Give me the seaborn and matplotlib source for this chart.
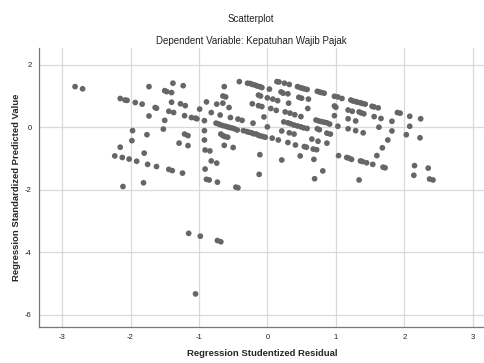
import numpy as np
import pandas as pd
import matplotlib
matplotlib.use("Agg")
import matplotlib.pyplot as plt
import seaborn as sns

# Regression Studentized Residual (x) and Standardized Predicted Value (y)
residual = [
    -2.81, -2.70, -2.15, -2.08, -2.05, -1.93, -1.83, -1.73, -1.64, -1.62,
    -1.73, -1.50, -1.47, -1.38, -1.23, -1.40, -1.40, -1.27, -1.20, -1.44,
    -1.37, -1.21, -1.50, -1.52, -1.97, -1.76, -1.98, -1.21, -1.16, -1.29,
    -1.16, -2.15, -2.23, -2.12, -2.02, -1.91, -1.80, -1.75, -1.62, -1.44,
    -1.39, -1.24, -2.11, -1.81,
    -1.11, -1.05, -1.03, -0.99, -0.92, -0.89, -0.82, -0.74, -0.65, -0.69,
    -0.63, -0.65, -0.61, -0.56, -0.54, -0.43, -0.37, -0.41,
    -0.29, -0.25, -0.22, -0.18, -0.15, -0.11, -0.08,
    0.03, -0.13, -0.10, -0.22, -0.13, -0.08, -0.05, -0.21, 0.00, 0.08, 0.15,
    0.05, 0.13, 0.14, 0.17, 0.25, 0.32, 0.20, 0.23, 0.30, 0.31, 0.26, 0.33, 0.40,
    0.44, 0.48, 0.51, 0.54, 0.58, 0.46, 0.50, 0.49, 0.60, 0.59,
    0.73, 0.76, 0.79, 0.83,
    -0.75, -0.72, -0.69, -0.65, -0.61, -0.58, -0.55, -0.51, -0.48, -0.44,
    -0.35, -0.30, -0.27, -0.23, -0.20, -0.16, -0.13, -0.10, -0.06, -0.03,
    0.00, 0.07, 0.16, 0.21,
    0.24, 0.30, 0.34, 0.39, 0.44, 0.49, 0.53, 0.58,
    0.32, 0.39, 0.30, 0.41, 0.54, 0.57, 0.65, 0.67, 0.72, 0.73, 0.76, 0.74,
    0.68, 0.81, 0.69, 0.48, 0.21, -0.11, -0.12,
    0.71, 0.75, 0.79, 0.83, 0.87, 0.91, 1.03,
    0.87, 0.92, 0.87,
    -0.92, -0.92, -0.91, -0.84, -0.82, -0.74, -0.91, -0.89, -0.85, -0.73,
    -0.46, -0.43, -0.63, -0.50, -0.68, -0.65, -0.62, -0.58,
    0.98, 1.03, 1.09,
    1.22, 1.25, 1.29, 1.32, 1.36, 1.39, 1.43,
    1.53, 1.56, 1.62, 0.98, 1.00, 0.98, 1.18, 1.24, 1.34, 1.37, 1.41,
    1.18, 1.29, 1.56, 1.66, 1.82, 1.90, 1.94, 2.08, 2.24,
    1.18, 1.29, 1.40, 1.63, 1.82, 2.08, 2.03, 2.23,
    1.76, 1.68, 1.60, 1.04, 1.16, 1.19, 1.23, 1.36, 1.39, 1.45, 1.54,
    1.69, 1.72, 1.34, 2.15, 2.14, 2.35, 2.37, 2.42,
    -1.15, -0.98, -0.73, -0.68, -1.05,
]
predicted = [
    1.30, 1.23, 0.92, 0.87, 0.86, 0.79, 0.74, 1.30, 0.63, 0.61,
    0.36, 1.17, 1.14, 1.41, 1.33, 1.11, 0.80, 0.75, 0.69, 0.51,
    0.47, 0.37, 0.22, -0.06, -0.11, -0.24, -0.43, -0.22, -0.27, -0.51,
    -0.59, -0.64, -0.92, -0.97, -1.02, -1.09, -0.83, -1.19, -1.26, -1.35,
    -1.39, -1.47, -1.90, -1.78,
    0.31, 0.29, 0.27, 0.58, 0.21, 0.81, 0.47, 0.74, 0.77, 0.39,
    1.30, 1.00, 0.97, 0.63, 0.31, 0.26, 0.22, 1.46,
    1.41, 1.40, 1.37, 1.35, 1.32, 1.30, 1.27,
    1.22, 1.03, 1.00, 0.75, 0.69, 0.66, 0.33, 0.13, 0.94, 0.90, 0.85,
    0.60, 0.54, 1.46, 1.45, 1.41, 1.37, 1.13, 1.09, 1.07, 0.77, 0.49, 0.45, 0.40,
    1.30, 1.27, 1.25, 1.23, 1.21, 0.96, 0.93, 0.34, 0.90, 0.60,
    1.15, 1.13, 1.11, 1.09,
    0.13, 0.11, 0.08, 0.05, 0.03, 0.01, -0.01, -0.03, -0.05, -0.09,
    -0.11, -0.14, -0.16, -0.18, -0.21, -0.22, -0.26, -0.28, -0.30, -0.32,
    0.01, -0.35, -0.41, -0.12,
    0.17, 0.14, 0.11, 0.07, 0.04, 0.01, -0.02, -0.04,
    -0.18, -0.22, -0.49, -0.57, -0.62, -0.64, -0.38, -0.70, -0.72, -0.05, -0.08, -0.45,
    -1.03, -1.40, -1.65, -0.92, -1.05, -0.88, -1.51,
    0.23, 0.20, 0.18, 0.16, 0.14, 0.10, 0.03,
    -0.19, -0.22, -0.51,
    -0.11, -0.41, -0.73, -0.76, -1.08, -1.15, -1.34, -1.67, -1.69, -1.76,
    -1.92, -1.94, -0.58, -0.65, -0.22, -0.27, -0.30, -0.32,
    0.99, 0.97, 0.92,
    0.87, 0.84, 0.82, 0.80, 0.78, 0.76, 0.74,
    0.67, 0.65, 0.62, 0.68, 0.64, 0.37, 0.55, 0.51, 0.49, 0.46, 0.43,
    0.27, 0.20, 0.34, 0.28, 0.19, 0.47, 0.45, 0.35, 0.27,
    -0.05, -0.11, -0.18, 0.00, -0.12, 0.03, -0.24, -0.34,
    -0.41, -0.66, -0.91, -0.91, -0.97, -0.99, -1.03, -1.08, -1.10, -1.14, -1.19,
    -1.28, -1.30, -1.69, -1.23, -1.54, -1.31, -1.66, -1.69,
    -3.40, -3.49, -3.63, -3.67, -5.34,
]

x_ticks = [-3, -2, -1, 0, 1, 2, 3]
y_ticks = [-6, -4, -2, 0, 2]

df = pd.DataFrame({"residual": residual, "predicted": predicted})

sns.set_style("white")
plt.rcParams["font.family"] = ["Liberation Sans", "DejaVu Sans"]

fig = plt.figure(figsize=(4.85, 3.63), dpi=100)
ax = fig.add_axes([0.080, 0.100, 0.920, 0.768])

sns.scatterplot(data=df, x="residual", y="predicted", ax=ax,
                color="#666666", s=17, edgecolor="none", zorder=3)

ax.set_xlim(-3.34, 3.18)
ax.set_ylim(-6.39, 2.54)
ax.set_xticks(x_ticks)
ax.set_yticks(y_ticks)
ax.set_xticklabels([str(t) for t in x_ticks])
ax.set_yticklabels([str(t) for t in y_ticks])
ax.grid(True, color="#d9d9d9", linewidth=0.9, zorder=0)
ax.set_axisbelow(True)
ax.tick_params(axis="both", length=0, labelsize=5.5, labelcolor="#222222", pad=5)

for side in ["top", "right"]:
    ax.spines[side].set_visible(False)
for side in ["left", "bottom"]:
    ax.spines[side].set_color("#777777")
    ax.spines[side].set_linewidth(0.9)

ax.set_xlabel("Regression Studentized Residual", fontsize=6.8, fontweight="bold", labelpad=6)
ax.set_ylabel("Regression Standardized Predicted Value", fontsize=6.8, fontweight="bold", labelpad=3)

fig.text(0.518, 0.948, "Scatterplot", ha="center", va="center", fontsize=7, color="#222222")
fig.text(0.518, 0.886, "Dependent Variable: Kepatuhan Wajib Pajak", ha="center", va="center",
         fontsize=7, color="#222222")

fig.savefig("out.png", dpi=100)
